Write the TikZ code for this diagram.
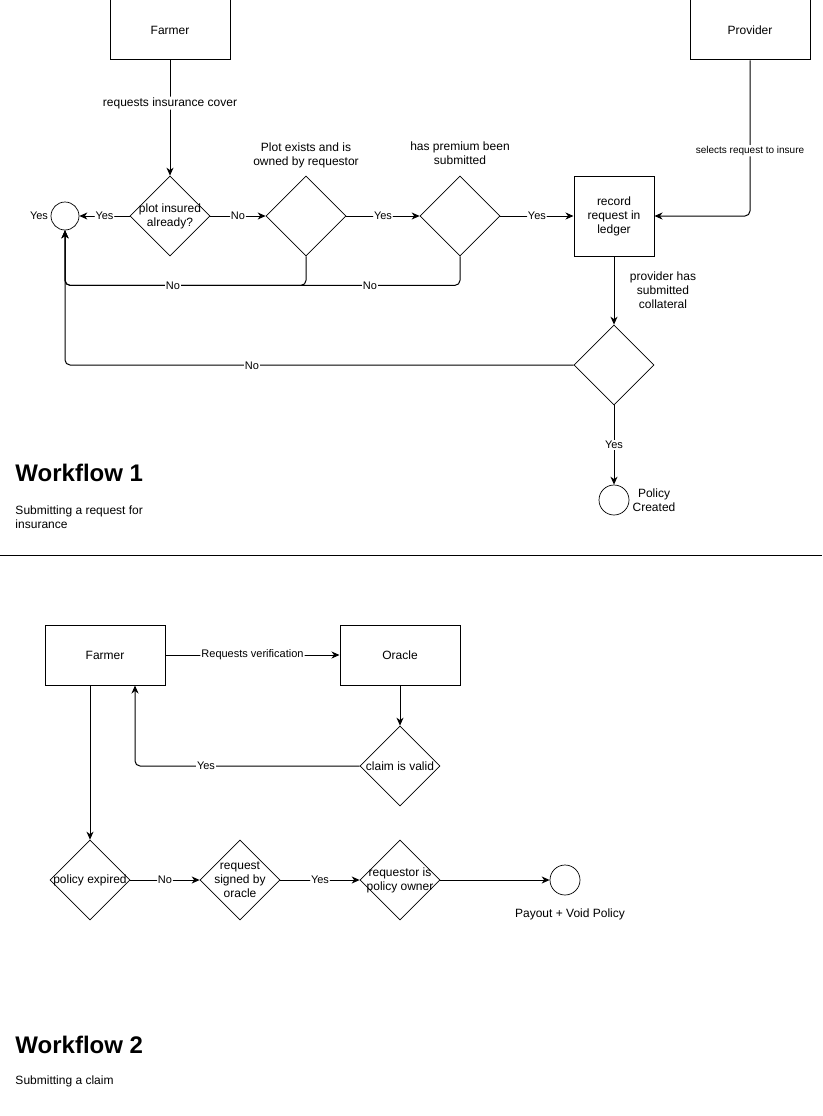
\documentclass[tikz,border=0pt]{standalone}
\usepackage{fontspec}
\setmainfont{Liberation Sans}
\usetikzlibrary{shapes.geometric,arrows.meta}
\begin{document}
\begin{tikzpicture}[x=1pt,y=-1pt,
  font=\fontsize{12}{14}\selectfont,
  line width=1pt,
  box/.style={draw, minimum width=120pt, minimum height=60pt, inner sep=0pt, align=center},
  sqbox/.style={draw, minimum width=80pt, minimum height=80pt, inner sep=0pt, align=center},
  dec/.style={draw, diamond, aspect=1, minimum size=80pt, inner sep=0pt, line width=0.7pt},
  endpt/.style={draw, circle, inner sep=0pt, line width=0.7pt},
  txt/.style={align=center, inner sep=0pt},
  elab/.style={fill=white, inner sep=1pt, font=\fontsize{11}{13}\selectfont},
  arr/.style={-{Stealth[length=8pt,width=7pt,inset=2.5pt]}, rounded corners=5pt},
  heading/.style={font=\fontsize{24}{28}\selectfont\bfseries, anchor=west, inner sep=0pt},
  subtxt/.style={anchor=north west, align=left, inner sep=0pt}
]
\fill[white] (0,0) rectangle (822,1116);
\useasboundingbox (0,0) rectangle (822,1116);

% ---------- Workflow 1: submitting a request ----------
\node[box] (farmer1) at (170,30) {Farmer};
\node[box] (provider) at (750,30) {Provider};

\node[dec, label={[txt]center:plot insured\\already?}] (d1) at (170,216) {};
\node[dec] (d2) at (306,216) {};
\node[dec] (d3) at (460,216) {};
\node[sqbox] (rec) at (614,216) {record\\request in\\ledger};
\node[dec] (d4) at (614,365) {};
\node[endpt, minimum size=28pt] (c1) at (65,216) {};
\node[endpt, minimum size=30pt] (c2) at (614,500) {};

\node[txt] (q2) at (306,155) {Plot exists and is\\owned by requestor};
\node[txt] (q3) at (460,153.5) {has premium been\\submitted};
\node[txt] (q4) at (663,290) {provider has\\submitted\\collateral};
\node[txt] (pc) at (654,500) {Policy\\Created};
\node[txt] (yesleft) at (39,216) {\fontsize{11}{13}\selectfont Yes};

\draw[arr] (farmer1.south) -- node[pos=0.37, fill=white, inner sep=1pt] {requests insurance cover} (d1.north);
\draw[arr] (d1.west) -- node[elab] {Yes} (c1.east);
\draw[arr] (d1.east) -- node[elab] {No} (d2.west);
\draw[arr] (d2.east) -- node[elab] {Yes} (d3.west);
\draw[arr] (d3.east) -- node[elab] {Yes} (rec.west);
\draw[arr] (provider.south) |- node[pos=0.29, fill=white, inner sep=1pt, font=\fontsize{10}{12}\selectfont] {selects request to insure} (rec.east);
\draw[arr] (d2.south) -- ++(0,29) -| (c1.south);
\draw[arr] (d3.south) -- ++(0,29) -| (c1.south);
\node[elab] (no1) at (173,286) {No};
\node[elab] (no2) at (370,286) {No};
\draw[arr] (rec.south) -- (d4.north);
\draw[arr] (d4.west) -| (c1.south);
\node[elab] (no3) at (252,366) {No};
\draw[arr] (d4.south) -- node[elab, pos=0.5] {Yes} (c2.north);

\node[heading] (h1) at (15,473) {Workflow 1};
\node[subtxt] (s1) at (15,505) {Submitting a request for\\insurance};

% separator
\draw (0,555) -- (822,555);

% ---------- Workflow 2: submitting a claim ----------
\node[box] (farmer2) at (105,655) {Farmer};
\node[box] (oracle) at (400,655) {Oracle};
\node[dec, label={[txt]center:claim is valid}] (d5) at (400,766) {};
\node[dec, label={[txt]center:policy expired}] (d6) at (90,880) {};
\node[dec, label={[txt]center:request\\signed by\\oracle}] (d7) at (240,880) {};
\node[dec, label={[txt]center:requestor is\\policy owner}] (d8) at (400,880) {};
\node[endpt, minimum size=30pt] (c3) at (565,880) {};
\node[txt] (payout) at (570,914) {Payout + Void Policy};

\draw[arr] (farmer2.east) -- node[elab] {Requests verification} (oracle.west);
\draw[arr] (oracle.south) -- (d5.north);
\draw[arr] (d5.west) -| ([xshift=30pt]farmer2.south);
\node[elab] (yes5) at (206,766) {Yes};
\draw[arr] ([xshift=-15pt]farmer2.south) -- (d6.north);
\draw[arr] (d6.east) -- node[elab] {No} (d7.west);
\draw[arr] (d7.east) -- node[elab] {Yes} (d8.west);
\draw[arr] (d8.east) -- (c3.west);

\node[heading] (h2) at (15,1045) {Workflow 2};
\node[subtxt] (s2) at (15,1075) {Submitting a claim};
\end{tikzpicture}
\end{document}
